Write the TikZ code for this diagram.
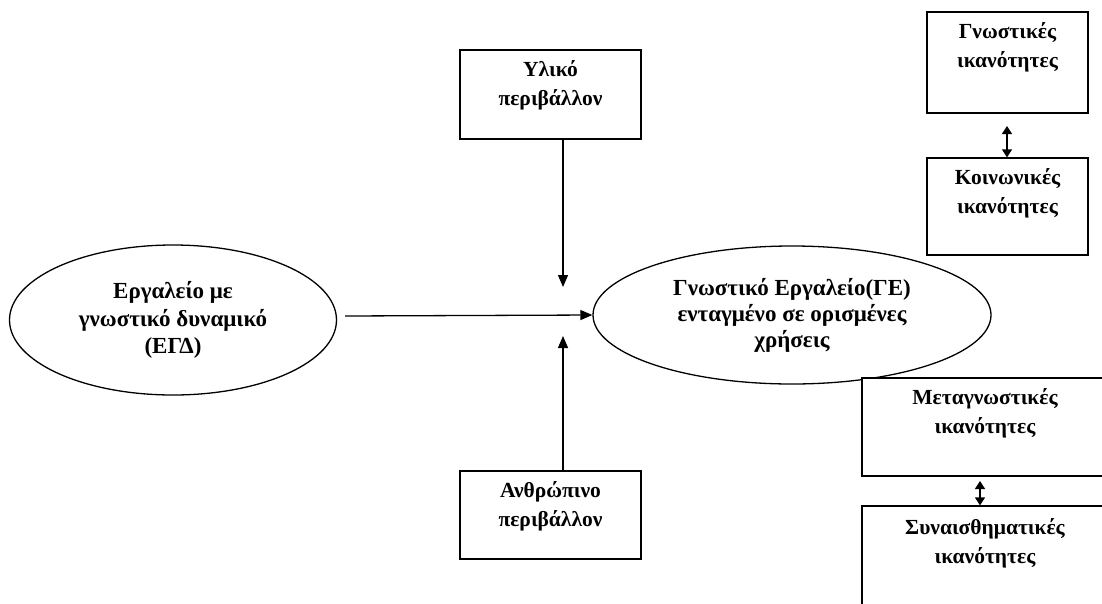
\documentclass[tikz,border=0pt]{standalone}
\usepackage{fontspec}
\setmainfont{Liberation Serif}
\usetikzlibrary{shapes.geometric,arrows.meta}
\begin{document}
\begin{tikzpicture}[x=1pt,y=-1pt,
  line width=1.3pt,
  every node/.style={align=center},
  boxfont/.style={font=\fontsize{21.5}{29}\selectfont\bfseries},
  boxnode/.style={draw, fill=white, rectangle, inner sep=0pt},
  ellnode/.style={draw, fill=white, ellipse, inner sep=0pt},
  boxtext/.style={boxfont, anchor=north, inner sep=0pt, align=center, yshift=-11pt},
  arr/.style={-{Triangle[length=12pt,width=10pt]}},
  darr/.style={{Triangle[length=8pt,width=10pt]}-{Triangle[length=8pt,width=10pt]}}
]
\fill[white] (0,0) rectangle (1102,603);
\clip (0,0) rectangle (1102,603);

% ellipses
\node[ellnode, minimum width=327pt, minimum height=150pt,
  font=\fontsize{23}{27.5}\selectfont\bfseries] (egd) at (173,320)
  {Εργαλείο με\\γνωστικό δυναμικό\\(ΕΓΔ)};
\node[ellnode, minimum width=398pt, minimum height=138pt,
  font=\fontsize{23}{26}\selectfont\bfseries] (ge) at (792,315)
  {Γνωστικό Εργαλείο(ΓΕ)\\ενταγμένο σε ορισμένες\\χρήσεις};

% environment boxes
\node[boxnode, minimum width=181pt, minimum height=89pt,
  label={[boxtext]north:Υλικό\\περιβάλλον}] (yl) at (550.5,94.5) {};
\node[boxnode, minimum width=181pt, minimum height=88pt,
  label={[boxtext]north:Ανθρώπινο\\περιβάλλον}] (an) at (550.5,515) {};

% competence boxes
\node[boxnode, minimum width=161pt, minimum height=101pt,
  label={[boxtext]north:Γνωστικές\\ικανότητες}] (gn) at (1007.5,62.5) {};
\node[boxnode, minimum width=161pt, minimum height=97pt,
  label={[boxtext]north:Κοινωνικές\\ικανότητες}] (ko) at (1007.5,206.5) {};
\node[boxnode, minimum width=246pt, minimum height=98pt,
  label={[boxtext]north:Μεταγνωστικές\\ικανότητες}] (me) at (985,427) {};
\node[boxnode, minimum width=246pt, minimum height=114pt,
  label={[boxtext, yshift=-2pt]north:Συναισθηματικές\\ικανότητες}] (sy) at (985,563) {};

% arrows into the tool
\coordinate (a1) at (563,287);
\coordinate (a2) at (563,336);
\coordinate (h1) at (345,316);
\draw[arr] (a1 |- yl.south) -- (a1);
\draw[arr] (a2 |- an.north) -- (a2);
\draw[arr] (h1) -- (ge.west);

% double arrows
\coordinate (d1) at (1007,126);
\coordinate (d2) at (980,481);
\draw[darr] (d1) -- (d1 |- ko.north);
\draw[darr] (d2) -- (d2 |- sy.north);
\end{tikzpicture}
\end{document}
